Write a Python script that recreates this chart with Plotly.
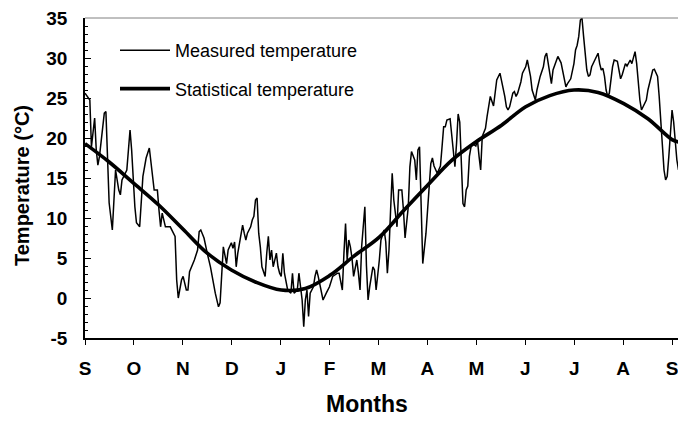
import plotly.graph_objects as go

# Month labels along the x axis (September to September)
months = ["S", "O", "N", "D", "J", "F", "M", "A", "M", "J", "J", "A", "S"]

# Temperature tick labels
temp_ticks = [-5, 0, 5, 10, 15, 20, 25, 30, 35]
temp_tick_text = ["-5", "0", "5", "10", "15", "20", "25", "30", "35"]

# Measured daily temperature (days counted from 1 September)
day = [
    0, 3, 4, 6, 7, 8, 9, 10, 12, 13, 15, 17, 19, 21, 22, 23, 26, 28, 29, 31,
    32, 34, 36, 38, 40, 43, 45, 46, 47, 48, 50, 53, 56, 57, 58, 60, 61, 63, 64, 65,
    68, 70, 71, 72, 74, 76, 78, 81, 83, 84, 85, 86, 88, 89, 91, 92, 93, 94, 95, 97,
    98, 99, 100, 101, 103, 104, 105, 106, 107, 108, 109, 110, 112, 113, 114, 115, 116, 117, 119, 120,
    121, 122, 123, 124, 126, 128, 129, 130, 132, 133, 134, 135, 136, 137, 138, 139, 140, 142, 143, 144,
    145, 146, 148, 150, 152, 154, 157, 158, 160, 161, 162, 163, 164, 165, 166, 167, 169, 170, 171, 172,
    174, 175, 176, 177, 179, 180, 181, 183, 184, 186, 187, 188, 189, 190, 191, 192, 194, 195, 197, 198,
    199, 201, 202, 203, 205, 206, 207, 208, 209, 210, 212, 214, 215, 216, 217, 219, 220, 221, 222, 223,
    224, 225, 227, 228, 229, 230, 231, 232, 233, 234, 235, 236, 237, 238, 239, 240, 241, 243, 244, 245,
    246, 247, 248, 249, 250, 251, 252, 254, 255, 256, 258, 259, 260, 261, 262, 263, 264, 265, 266, 267,
    268, 269, 270, 271, 272, 274, 275, 276, 277, 278, 280, 281, 283, 285, 286, 287, 288, 289, 290, 291,
    293, 294, 296, 297, 299, 300, 302, 304, 305, 306, 307, 308, 309, 310, 311, 312, 313, 314, 315, 317,
    319, 320, 321, 322, 323, 324, 325, 326, 327, 328, 329, 331, 332, 333, 334, 335, 336, 337, 338, 339,
    340, 341, 342, 343, 344, 345, 346, 347, 349, 350, 352, 353, 354, 356, 357, 358, 359, 360, 361, 362,
    363, 364, 365, 366, 367, 368, 369,
]
measured = [
    25.6, 24.75, 18.9, 22.5, 18.5, 16.6, 17.7, 19.5, 23.1, 23.3, 11.9, 8.5, 16.0, 13.5, 12.9, 14.75, 16.0, 21.0, 18.5, 11.4,
    9.4, 8.9, 15.2, 17.5, 18.75, 13.5, 13.5, 11.0, 8.9, 10.6, 8.9, 8.9, 7.7, 2.25, 0.0, 2.25, 2.7, 1.0, 1.0, 3.3,
    4.75, 6.0, 8.3, 8.5, 7.5, 5.6, 3.9, 0.6, -1.1, -0.6, 3.5, 6.4, 4.3, 6.0, 6.9, 6.2, 7.0, 3.9, 5.6, 8.1,
    9.1, 8.1, 7.25, 8.1, 8.9, 9.75, 10.2, 12.25, 12.5, 8.1, 6.4, 3.9, 2.7, 5.6, 7.7, 4.75, 6.0, 3.9, 5.6, 3.9,
    3.1, 2.7, 5.6, 3.1, 1.0, 0.6, 3.1, 0.6, 1.0, 3.1, 1.0, -0.25, -3.6, -0.25, 1.0, -2.3, 0.6, 1.4, 2.7, 3.5,
    2.7, 1.8, -0.25, 0.6, 1.4, 2.7, 3.1, 3.1, 1.0, 5.6, 9.3, 4.75, 7.25, 6.4, 5.0, 2.7, 4.75, 3.1, 1.0, 6.4,
    11.4, 4.0, -0.25, 1.4, 3.9, 3.5, 1.0, 4.75, 7.25, 8.5, 7.0, 3.1, 6.0, 11.0, 15.6, 12.25, 8.9, 13.5, 13.5, 11.0,
    7.5, 11.4, 16.4, 18.3, 17.25, 14.75, 18.5, 18.9, 11.8, 4.3, 8.1, 13.9, 16.8, 17.5, 16.5, 15.6, 16.0, 16.5, 18.9, 21.4,
    21.4, 22.25, 22.4, 20.2, 17.7, 16.4, 19.3, 23.0, 22.0, 16.0, 11.8, 11.4, 13.5, 14.0, 17.7, 18.9, 19.3, 19.0, 19.75, 17.7,
    16.0, 20.2, 20.6, 21.2, 22.7, 24.3, 25.2, 24.0, 25.6, 27.25, 28.1, 27.25, 26.0, 25.2, 23.9, 23.5, 23.9, 24.75, 25.6, 25.8,
    25.2, 25.6, 26.2, 27.0, 28.1, 28.9, 29.75, 28.9, 27.7, 26.0, 24.75, 26.0, 27.7, 28.9, 30.2, 30.6, 29.3, 27.7, 26.8, 28.5,
    29.75, 30.2, 29.4, 28.5, 26.4, 26.8, 27.4, 29.3, 31.0, 31.6, 32.7, 34.75, 35.0, 32.7, 30.2, 28.5, 27.7, 27.9, 28.9, 29.75,
    30.6, 29.3, 28.5, 28.7, 27.7, 26.0, 25.2, 25.6, 27.7, 28.9, 29.75, 29.6, 28.5, 27.4, 27.9, 28.6, 29.3, 29.0, 29.3, 29.75,
    29.3, 30.2, 30.8, 29.3, 26.8, 24.75, 23.5, 23.9, 24.75, 26.0, 27.7, 28.5, 28.6, 27.7, 25.2, 21.8, 18.5, 16.0, 14.75, 15.2,
    17.7, 20.2, 23.5, 22.0, 19.3, 17.25, 16.0,
]

# Statistical (seasonal) temperature, sampled twice a month
stat_day = [0, 15, 30, 46, 61, 76, 91, 106, 122, 137, 152, 167, 183, 198, 213, 228, 243,
            259, 274, 289, 304, 319, 335, 350, 365, 369]
statistical = [19.3, 17.0, 14.4, 11.6, 8.6, 5.6, 3.5, 2.0, 1.0, 1.2, 2.8, 5.2, 7.6, 10.9, 14.1, 17.2, 19.5,
               21.6, 23.9, 25.3, 26.0, 25.7, 24.3, 22.4, 19.8, 19.5]

W, H = 678, 422
M_L, M_R, M_T, M_B = 85, 0, 18, 84
PW, PH = W - M_L - M_R, H - M_T - M_B
FONT = "Liberation Sans, Arial, Helvetica, sans-serif"
MONTH_LEN = 365 / 12
X_END = 368.7  # axis runs a few days past the closing September tick


def px_x(p):
    return (p - M_L) / PW


def px_y(p):
    return (H - M_B - p) / PH


fig = go.Figure()
fig.add_trace(go.Scatter(
    x=day, y=measured, mode="lines", name="Measured temperature",
    legendgroup="measured",
    line=dict(color="black", width=1.5),
))
fig.add_trace(go.Scatter(
    x=stat_day, y=statistical, mode="lines", name="Statistical temperature",
    legendgroup="statistical",
    line=dict(color="black", width=3.6, shape="spline", smoothing=1.0),
))

tick_font = dict(family=FONT, size=19, color="black", weight="bold")

fig.update_xaxes(
    range=[0, X_END],
    tickmode="array",
    tickvals=[i * MONTH_LEN for i in range(len(months))],
    ticktext=months,
    ticks="outside", ticklen=5, tickwidth=1, tickcolor="black",
    showline=True, linecolor="black", linewidth=1.5,
    showgrid=False, zeroline=False,
    tickfont=tick_font, ticklabelstandoff=7, ticklabeloverflow="allow",
)
fig.update_yaxes(
    range=[-5, 35],
    tickmode="array", tickvals=temp_ticks, ticktext=temp_tick_text,
    ticks="inside", ticklen=6, tickwidth=1, tickcolor="black",
    minor=dict(dtick=1, ticks="inside", ticklen=3, tickwidth=1, tickcolor="black"),
    showline=True, linecolor="black", linewidth=1.5,
    showgrid=False, zeroline=False,
    tickfont=tick_font, ticklabelstandoff=12,
)

fig.update_layout(
    width=W, height=H,
    margin=dict(l=M_L, r=M_R, t=M_T, b=M_B),
    plot_bgcolor="white", paper_bgcolor="white",
    showlegend=True,
    legend=dict(
        x=px_x(115), y=px_y(32), xanchor="left", yanchor="top",
        font=dict(family=FONT, size=18, color="black"),
        bgcolor="rgba(0,0,0,0)", itemwidth=50, tracegroupgap=12,
    ),
    shapes=[dict(type="line", xref="paper", yref="paper", x0=0, x1=1, y0=1, y1=1,
                 line=dict(color="#808080", width=1))],
    annotations=[
        dict(text="Temperature (°C)", xref="paper", yref="paper",
             x=px_x(22), y=px_y(186), textangle=-90, showarrow=False,
             xanchor="center", yanchor="middle",
             font=dict(family=FONT, size=20, color="black", weight="bold")),
        dict(text="Months", xref="paper", yref="paper",
             x=px_x(367), y=px_y(404), showarrow=False,
             xanchor="center", yanchor="middle",
             font=dict(family=FONT, size=23, color="black", weight="bold")),
    ],
)

fig.write_html("out.html")
